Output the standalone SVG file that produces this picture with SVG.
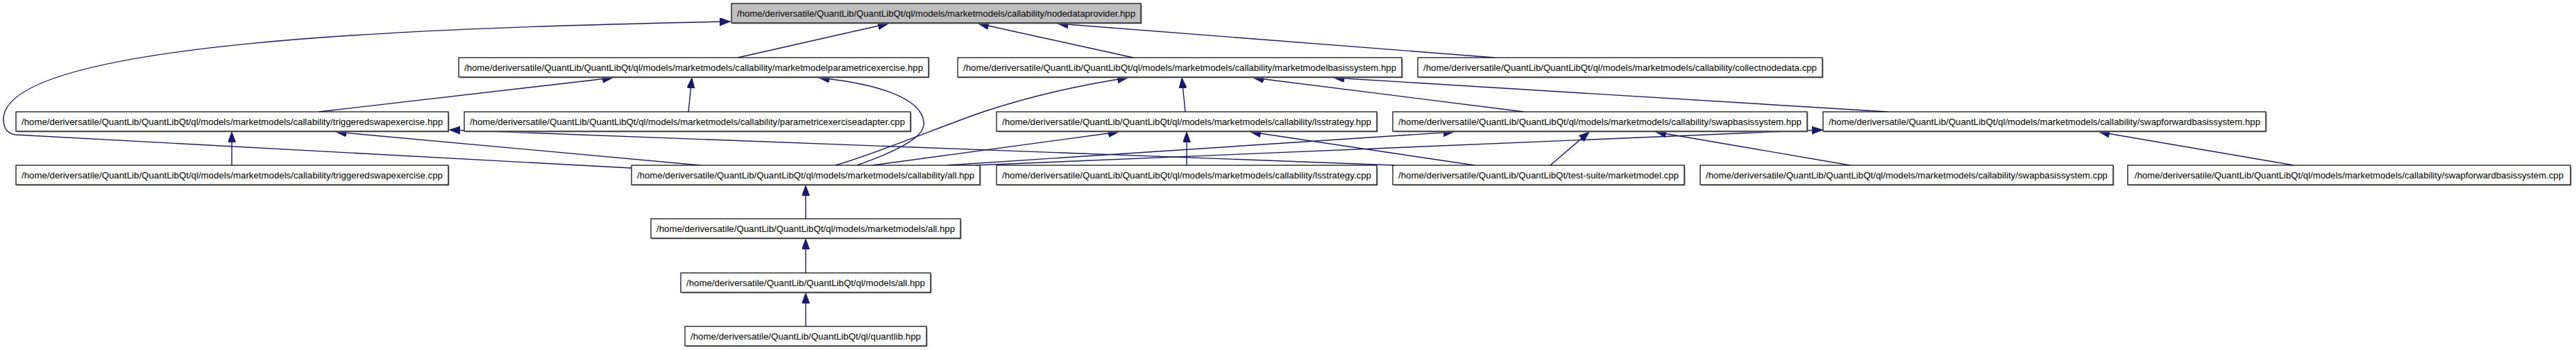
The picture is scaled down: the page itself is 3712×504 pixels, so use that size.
<svg xmlns="http://www.w3.org/2000/svg" width="3712" height="504" viewBox="0 0 3712 504">
<style>
.bg{fill:#ffffff}
.sh{fill:#9a9a9a}
.box{fill:#ffffff;stroke:#000000;stroke-width:1.2}
.root{fill:#bfbfbf;stroke:#000000;stroke-width:1.2}
.lbl{font-family:"Liberation Sans",Arial,sans-serif;font-size:13.5px;fill:#000000;text-anchor:middle}
.e{fill:none;stroke:#191970;stroke-width:1.4;marker-end:url(#ah)}
</style>
<defs>
<marker id="ah" markerUnits="userSpaceOnUse" markerWidth="16" markerHeight="12" refX="15" refY="5.5" orient="auto">
<path d="M0,0 L15,5.5 L0,11 z" fill="#191970" stroke="#191970" stroke-width="1"/>
</marker>
</defs>
<rect class="bg" x="0" y="0" width="3712" height="504"/>
<g id="connectors">
<path class="e" d="M1063,83 L1280,34"/>
<path class="e" d="M1633,83 L1410,34"/>
<path class="e" d="M2154,83 L1524,34"/>
<path class="e" d="M910,242 L22,194 C10,192 5,184 5,172 C5,60 600,40 1052,31"/>
<path class="e" d="M459,161 L883,112"/>
<path class="e" d="M992,161 L997,112"/>
<path class="e" d="M1235,238 C1300,215 1335,195 1331,175 C1327,140 1260,120 1180,112"/>
<path class="e" d="M334,238 L334,190"/>
<path class="e" d="M1009,238 L484,190"/>
<path class="e" d="M2010,238 L648,187"/>
<path class="e" d="M1708,161 L1703,112"/>
<path class="e" d="M1204,238 C1280,215 1360,180 1420,160 C1490,137 1560,122 1625,112"/>
<path class="e" d="M2196,161 L1806,112"/>
<path class="e" d="M2720,161 L1922,112"/>
<path class="e" d="M1710,238 L1710,190"/>
<path class="e" d="M1257,238 L1612,190"/>
<path class="e" d="M2125,238 L1802,190"/>
<path class="e" d="M1364,238 L2095,190"/>
<path class="e" d="M2234,238 L2290,190"/>
<path class="e" d="M2666,238 L2386,190"/>
<path class="e" d="M1405,238 L2626,187"/>
<path class="e" d="M3305,238 L3025,190"/>
<path class="e" d="M1161,315 L1161,267"/>
<path class="e" d="M1161,393 L1161,344"/>
<path class="e" d="M1161,470 L1161,422"/>
</g>
<g id="nodes">
<g id="n0"><rect class="sh" x="1055.5" y="6.5" width="590" height="28"/><rect class="root" x="1054" y="5" width="590" height="28"/><text class="lbl" x="1349" y="24" textLength="574" lengthAdjust="spacingAndGlyphs">/home/deriversatile/QuantLib/QuantLibQt/ql/models/marketmodels/callability/nodedataprovider.hpp</text></g>
<g id="n1"><rect class="sh" x="662.5" y="84.5" width="677" height="28"/><rect class="box" x="661" y="83" width="677" height="28"/><text class="lbl" x="999.5" y="102" textLength="661" lengthAdjust="spacingAndGlyphs">/home/deriversatile/QuantLib/QuantLibQt/ql/models/marketmodels/callability/marketmodelparametricexercise.hpp</text></g>
<g id="n2"><rect class="sh" x="1381.5" y="84.5" width="640" height="28"/><rect class="box" x="1380" y="83" width="640" height="28"/><text class="lbl" x="1700" y="102" textLength="624" lengthAdjust="spacingAndGlyphs">/home/deriversatile/QuantLib/QuantLibQt/ql/models/marketmodels/callability/marketmodelbasissystem.hpp</text></g>
<g id="n3"><rect class="sh" x="2044.5" y="84.5" width="583" height="28"/><rect class="box" x="2043" y="83" width="583" height="28"/><text class="lbl" x="2334.5" y="102" textLength="567" lengthAdjust="spacingAndGlyphs">/home/deriversatile/QuantLib/QuantLibQt/ql/models/marketmodels/callability/collectnodedata.cpp</text></g>
<g id="n4"><rect class="sh" x="24.5" y="162.5" width="623" height="28"/><rect class="box" x="23" y="161" width="623" height="28"/><text class="lbl" x="334.5" y="180" textLength="607" lengthAdjust="spacingAndGlyphs">/home/deriversatile/QuantLib/QuantLibQt/ql/models/marketmodels/callability/triggeredswapexercise.hpp</text></g>
<g id="n5"><rect class="sh" x="670.5" y="162.5" width="643" height="28"/><rect class="box" x="669" y="161" width="643" height="28"/><text class="lbl" x="990.5" y="180" textLength="627" lengthAdjust="spacingAndGlyphs">/home/deriversatile/QuantLib/QuantLibQt/ql/models/marketmodels/callability/parametricexerciseadapter.cpp</text></g>
<g id="n6"><rect class="sh" x="1437.5" y="162.5" width="548" height="28"/><rect class="box" x="1436" y="161" width="548" height="28"/><text class="lbl" x="1710" y="180" textLength="532" lengthAdjust="spacingAndGlyphs">/home/deriversatile/QuantLib/QuantLibQt/ql/models/marketmodels/callability/lsstrategy.hpp</text></g>
<g id="n7"><rect class="sh" x="2008.5" y="162.5" width="597" height="28"/><rect class="box" x="2007" y="161" width="597" height="28"/><text class="lbl" x="2305.5" y="180" textLength="581" lengthAdjust="spacingAndGlyphs">/home/deriversatile/QuantLib/QuantLibQt/ql/models/marketmodels/callability/swapbasissystem.hpp</text></g>
<g id="n8"><rect class="sh" x="2628.5" y="162.5" width="638" height="28"/><rect class="box" x="2627" y="161" width="638" height="28"/><text class="lbl" x="2946" y="180" textLength="622" lengthAdjust="spacingAndGlyphs">/home/deriversatile/QuantLib/QuantLibQt/ql/models/marketmodels/callability/swapforwardbasissystem.hpp</text></g>
<g id="n9"><rect class="sh" x="24.5" y="239.5" width="623" height="28"/><rect class="box" x="23" y="238" width="623" height="28"/><text class="lbl" x="334.5" y="257" textLength="607" lengthAdjust="spacingAndGlyphs">/home/deriversatile/QuantLib/QuantLibQt/ql/models/marketmodels/callability/triggeredswapexercise.cpp</text></g>
<g id="n10"><rect class="sh" x="911.5" y="239.5" width="502" height="28"/><rect class="box" x="910" y="238" width="502" height="28"/><text class="lbl" x="1161" y="257" textLength="486" lengthAdjust="spacingAndGlyphs">/home/deriversatile/QuantLib/QuantLibQt/ql/models/marketmodels/callability/all.hpp</text></g>
<g id="n11"><rect class="sh" x="1437.5" y="239.5" width="548" height="28"/><rect class="box" x="1436" y="238" width="548" height="28"/><text class="lbl" x="1710" y="257" textLength="532" lengthAdjust="spacingAndGlyphs">/home/deriversatile/QuantLib/QuantLibQt/ql/models/marketmodels/callability/lsstrategy.cpp</text></g>
<g id="n12"><rect class="sh" x="2008.5" y="239.5" width="420" height="28"/><rect class="box" x="2007" y="238" width="420" height="28"/><text class="lbl" x="2217" y="257" textLength="404" lengthAdjust="spacingAndGlyphs">/home/deriversatile/QuantLib/QuantLibQt/test-suite/marketmodel.cpp</text></g>
<g id="n13"><rect class="sh" x="2451.5" y="239.5" width="595" height="28"/><rect class="box" x="2450" y="238" width="595" height="28"/><text class="lbl" x="2747.5" y="257" textLength="579" lengthAdjust="spacingAndGlyphs">/home/deriversatile/QuantLib/QuantLibQt/ql/models/marketmodels/callability/swapbasissystem.cpp</text></g>
<g id="n14"><rect class="sh" x="3067.5" y="239.5" width="638" height="28"/><rect class="box" x="3066" y="238" width="638" height="28"/><text class="lbl" x="3385" y="257" textLength="618" lengthAdjust="spacingAndGlyphs">/home/deriversatile/QuantLib/QuantLibQt/ql/models/marketmodels/callability/swapforwardbasissystem.cpp</text></g>
<g id="n15"><rect class="sh" x="939.5" y="316.5" width="446" height="28"/><rect class="box" x="938" y="315" width="446" height="28"/><text class="lbl" x="1161" y="334" textLength="430" lengthAdjust="spacingAndGlyphs">/home/deriversatile/QuantLib/QuantLibQt/ql/models/marketmodels/all.hpp</text></g>
<g id="n16"><rect class="sh" x="982.5" y="394.5" width="360" height="28"/><rect class="box" x="981" y="393" width="360" height="28"/><text class="lbl" x="1161" y="412" textLength="344" lengthAdjust="spacingAndGlyphs">/home/deriversatile/QuantLib/QuantLibQt/ql/models/all.hpp</text></g>
<g id="n17"><rect class="sh" x="988.5" y="471.5" width="348" height="28"/><rect class="box" x="987" y="470" width="348" height="28"/><text class="lbl" x="1161" y="489" textLength="332" lengthAdjust="spacingAndGlyphs">/home/deriversatile/QuantLib/QuantLibQt/ql/quantlib.hpp</text></g>
</g>
</svg>
